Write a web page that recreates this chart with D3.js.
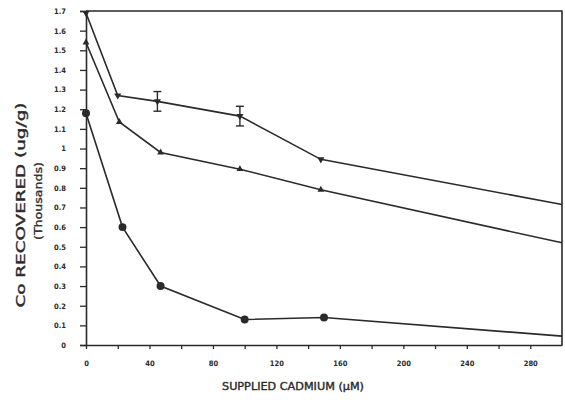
<!DOCTYPE html>
<html>
<head>
<meta charset="utf-8">
<script src="https://cdn.jsdelivr.net/npm/d3@7/dist/d3.min.js"></script>
<style>
  html, body { margin: 0; padding: 0; background: #fff; }
  svg { display: block; }
  .tick text { font-family: "DejaVu Sans Condensed", "DejaVu Sans", sans-serif; font-weight: bold; }
</style>
</head>
<body>
<svg id="chart" width="565" height="400"></svg>
<script>
// Supplied cadmium concentrations (µM) for each series
const xTop = [0, 20, 45, 97, 148, 300];
const yTop = [1.69, 1.27, 1.24, 1.165, 0.945, 0.715];
const errTop = [0, 0, 0.05, 0.05, 0, 0];

const xMid = [0, 21, 47, 97, 148, 300];
const yMid = [1.54, 1.135, 0.98, 0.895, 0.79, 0.52];

const xLow = [0, 23, 47, 100, 150, 300];
const yLow = [1.18, 0.60, 0.30, 0.13, 0.14, 0.045];

const yTickValues = [0, 0.1, 0.2, 0.3, 0.4, 0.5, 0.6, 0.7, 0.8, 0.9, 1, 1.1, 1.2, 1.3, 1.4, 1.5, 1.6, 1.7];
const xTickValues = [0, 20, 40, 60, 80, 100, 120, 140, 160, 180, 200, 220, 240, 260, 280];
const xLabelValues = [0, 40, 80, 120, 160, 200, 240, 280];

const svg = d3.select("#chart");
const ink = "#2a2a2a";

const x = d3.scaleLinear().domain([0, 300]).range([86, 562]);
const y = d3.scaleLinear().domain([0, 1.7]).range([345, 11]);

// frame (top and right edges)
svg.append("path")
  .attr("d", `M${x(0)},${y(1.7)}H${x(300)}V${y(0)}`)
  .attr("fill", "none").attr("stroke", ink).attr("stroke-width", 1.6);

// y axis
const yAxis = svg.append("g")
  .attr("transform", `translate(${x(0)},0)`)
  .call(d3.axisLeft(y).tickValues(yTickValues).tickSize(6).tickPadding(14)
    .tickFormat(d => d3.format("~g")(d)));
yAxis.select(".domain").attr("stroke", ink).attr("stroke-width", 1.6);
yAxis.selectAll(".tick line").attr("stroke", ink).attr("stroke-width", 1.3);
yAxis.selectAll(".tick text").attr("font-size", 7.5).attr("fill", ink);

// x axis: ticks every 20, labels every 40
const xAxis = svg.append("g")
  .attr("transform", `translate(0,${y(0)})`)
  .call(d3.axisBottom(x).tickValues(xTickValues).tickSize(4).tickSizeOuter(0).tickPadding(12)
    .tickFormat(d => xLabelValues.includes(d) ? d : ""));
xAxis.select(".domain").attr("stroke", ink).attr("stroke-width", 1.6);
xAxis.selectAll(".tick line").attr("stroke", ink).attr("stroke-width", 1.3);
xAxis.selectAll(".tick text").attr("font-size", 7.5).attr("fill", ink);

// axis titles
const titleFont = "'DejaVu Sans Condensed', 'DejaVu Sans', sans-serif";
svg.append("text")
  .attr("x", 293).attr("y", 390)
  .attr("text-anchor", "middle")
  .attr("font-family", titleFont)
  .attr("font-size", 11).attr("fill", ink)
  .attr("stroke", ink).attr("stroke-width", 0.35)
  .attr("textLength", 142).attr("lengthAdjust", "spacingAndGlyphs")
  .text("SUPPLIED CADMIUM (µM)");

svg.append("text")
  .attr("transform", "translate(25,205) rotate(-90)")
  .attr("text-anchor", "middle")
  .attr("font-family", titleFont)
  .attr("font-size", 12).attr("fill", ink)
  .attr("stroke", ink).attr("stroke-width", 0.35)
  .attr("textLength", 205).attr("lengthAdjust", "spacingAndGlyphs")
  .text("Co RECOVERED (ug/g)");

svg.append("text")
  .attr("transform", "translate(42,201) rotate(-90)")
  .attr("text-anchor", "middle")
  .attr("font-family", titleFont)
  .attr("font-size", 11).attr("fill", ink)
  .attr("stroke", ink).attr("stroke-width", 0.3)
  .attr("textLength", 78).attr("lengthAdjust", "spacingAndGlyphs")
  .text("(Thousands)");

// series
const line = d3.line().x(d => x(d[0])).y(d => y(d[1]));
const series = [
  { xs: xTop, ys: yTop, sym: d3.symbolTriangle, size: 22, rot: 180 },
  { xs: xMid, ys: yMid, sym: d3.symbolTriangle, size: 20, rot: 0 },
  { xs: xLow, ys: yLow, sym: d3.symbolCircle, size: 50, rot: 0 }
];

series.forEach(s => {
  const pts = s.xs.map((v, i) => [v, s.ys[i]]);
  svg.append("path")
    .datum(pts)
    .attr("d", line)
    .attr("fill", "none").attr("stroke", ink).attr("stroke-width", 1.6);
  svg.selectAll(null)
    .data(pts.filter(p => p[0] < 300))
    .enter().append("path")
    .attr("d", d3.symbol().type(s.sym).size(s.size))
    .attr("transform", d => `translate(${x(d[0])},${y(d[1])}) rotate(${s.rot})`)
    .attr("fill", ink);
});

// error bars on the top series
const errPts = xTop.map((v, i) => ({ x: v, y: yTop[i], e: errTop[i] })).filter(d => d.e > 0);
const eb = svg.selectAll(null).data(errPts).enter().append("g").attr("stroke", ink).attr("stroke-width", 1.4);
eb.append("line")
  .attr("x1", d => x(d.x)).attr("x2", d => x(d.x))
  .attr("y1", d => y(d.y + d.e)).attr("y2", d => y(d.y - d.e));
eb.append("line")
  .attr("x1", d => x(d.x) - 4).attr("x2", d => x(d.x) + 4)
  .attr("y1", d => y(d.y + d.e)).attr("y2", d => y(d.y + d.e));
eb.append("line")
  .attr("x1", d => x(d.x) - 4).attr("x2", d => x(d.x) + 4)
  .attr("y1", d => y(d.y - d.e)).attr("y2", d => y(d.y - d.e));
</script>
</body>
</html>
